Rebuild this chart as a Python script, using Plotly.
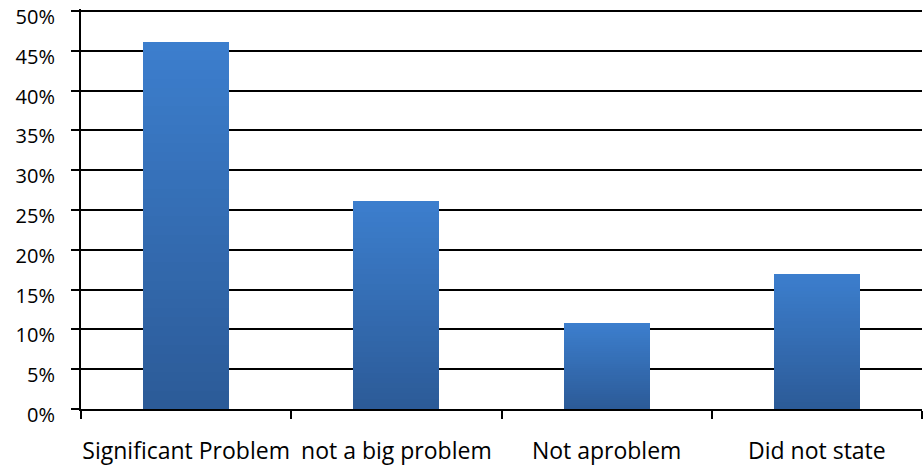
import numpy as np
import plotly.graph_objects as go

categories = ['Significant Problem', 'not a big problem', 'Not aproblem', 'Did not state']
values = [46.1, 26.1, 10.8, 17.0]
y_ticks = [0, 5, 10, 15, 20, 25, 30, 35, 40, 45, 50]
y_tick_labels = [f'{v}%' for v in y_ticks]

# gradient: stack thin slices, dark at the bottom and light at the top
n_slices = 40
top_rgb = np.array([60, 126, 205])
bottom_rgb = np.array([44, 91, 152])

fig = go.Figure()
for i in range(n_slices):
    t = i / (n_slices - 1)
    c = bottom_rgb + (top_rgb - bottom_rgb) * t
    fig.add_trace(go.Bar(
        x=categories,
        y=[v / n_slices for v in values],
        marker=dict(color=f'rgb({c[0]:.0f},{c[1]:.0f},{c[2]:.0f})', line=dict(width=0)),
        showlegend=False,
        hoverinfo='skip',
    ))

fig.update_layout(
    barmode='stack',
    bargap=0.59,
    width=924,
    height=468,
    margin=dict(l=81, r=2, t=9, b=59, autoexpand=False),
    plot_bgcolor='white',
    paper_bgcolor='white',
    font=dict(family='Open Sans, sans-serif', size=20, color='black'),
)

fig.update_xaxes(
    showline=True, linecolor='black', linewidth=2,
    ticks='outside', tickson='boundaries', ticklen=8, tickcolor='black', tickwidth=1.5,
    ticklabelstandoff=20,
    tickangle=0,
    tickfont=dict(size=23),
    showgrid=False,
    automargin=False,
)
fig.update_yaxes(
    range=[0, 50.25],
    tickvals=y_ticks, ticktext=y_tick_labels,
    showline=True, linecolor='black', linewidth=2,
    ticks='outside', ticklen=8, tickcolor='black', tickwidth=1.5,
    ticklabelstandoff=12,
    ticklabelshift=6,
    ticklabeloverflow='allow',
    showgrid=True, gridcolor='black', gridwidth=1.5,
    tickfont=dict(size=20),
    zeroline=False,
    automargin=False,
)

# drop the default page margin so the figure sits at the window corner
fig.write_html(
    'out.html',
    config={'displayModeBar': False},
    post_script="document.body.style.margin='0';document.body.style.overflow='hidden';",
)
